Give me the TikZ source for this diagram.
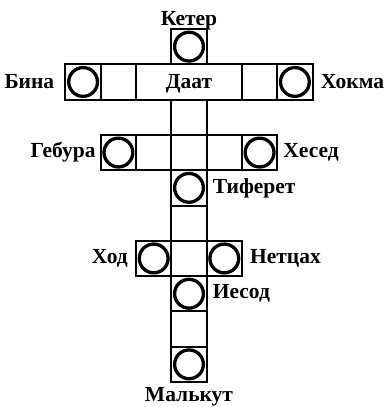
\documentclass[tikz,border=0pt]{standalone}
\usepackage{fontspec}
\setmainfont{Liberation Serif}
\usetikzlibrary{positioning}

\begin{document}
\begin{tikzpicture}[node distance=0pt, every node/.style={font=\fontsize{21.5}{25}\selectfont\bfseries},
  every label/.style={inner sep=0pt, font=\fontsize{21.5}{25}\selectfont\bfseries},
  cell/.style={draw, line width=2pt, minimum width=35.3pt, minimum height=35.3pt, inner sep=0pt, outer sep=0pt},
  sefira/.style={cell, path picture={\draw[line width=3.3pt] (path picture bounding box.center) circle (14.4pt);}}]
\useasboundingbox (0,0) rectangle (383pt,-407pt);
% upper part
\node[sefira, label={[label distance=-1pt]above:Кетер}] (keter) at (189pt,-46.65pt) {};
\node[cell, minimum width=105.9pt, text depth=0pt, below=of keter] (daat) {Даат};
\node[cell, left=of daat] (binaGap) {};
\node[sefira, left=of binaGap, label={[label distance=11pt]left:Бина}] (bina) {};
\node[cell, right=of daat] (hokmaGap) {};
\node[sefira, right=of hokmaGap, label={[label distance=8pt]right:Хокма}] (hokma) {};
\node[cell, below=of daat] (colA) {};
% middle part
\node[cell, below=of colA] (midA) {};
\node[cell, left=of midA] (geburaGap) {};
\node[sefira, left=of geburaGap, label={[label distance=5pt]left:Гебура}] (gebura) {};
\node[cell, right=of midA] (hesedGap) {};
\node[sefira, right=of hesedGap, label={[label distance=6pt]right:Хесед}] (hesed) {};
\node[sefira, below=of midA, label={[label distance=6pt]right:Тиферет}] (tiferet) {};
\node[cell, below=of tiferet] (colB) {};
% lower part
\node[cell, below=of colB] (midB) {};
\node[sefira, left=of midB, label={[label distance=8pt]left:Ход}] (hod) {};
\node[sefira, right=of midB, label={[label distance=8pt]right:Нетцах}] (netzah) {};
\node[sefira, below=of midB, label={[label distance=6pt]right:Иесод}] (yesod) {};
\node[cell, below=of yesod] (colC) {};
\node[sefira, below=of colC, label={[label distance=5pt]below:Малькут}] (malkut) {};
\end{tikzpicture}
\end{document}
